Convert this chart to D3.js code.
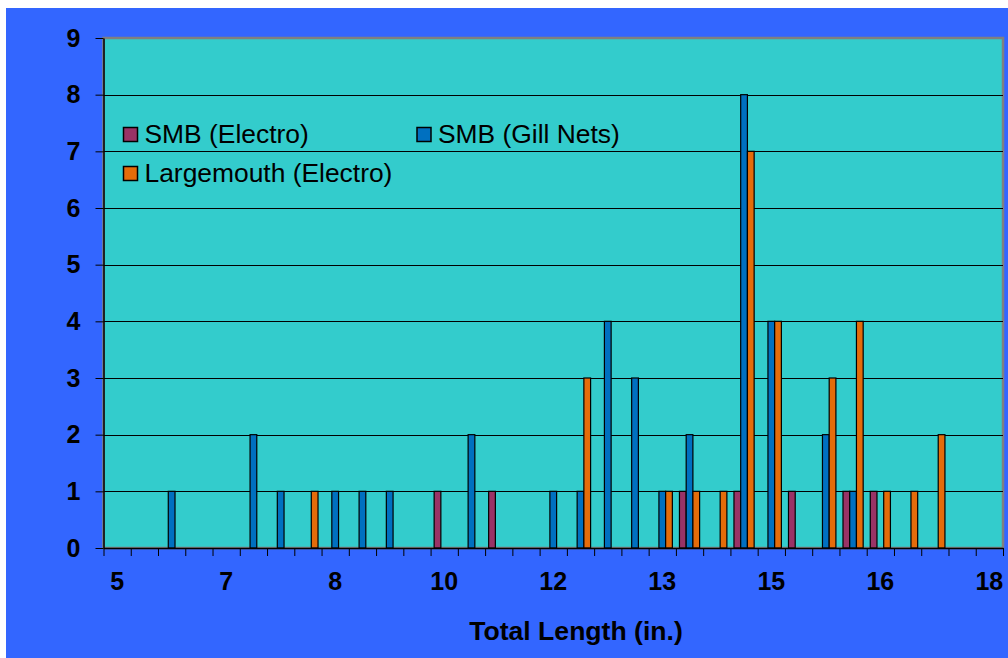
<!DOCTYPE html>
<html>
<head>
<meta charset="utf-8">
<script src="https://cdn.jsdelivr.net/npm/d3@7"></script>
<style>
  html, body { margin: 0; padding: 0; background: #ffffff; }
  svg { display: block; font-family: Arial, "Liberation Sans", sans-serif; }
</style>
</head>
<body>
<svg id="chart" width="1008" height="658"></svg>
<script>
// Category labels (length bins, shown rounded as in the original)
const categories = ["5","5","6","6","7","7","7","8","8","9","9","9","10","10","11","11","12","12","12","13","13","14","14","14","15","15","16","16","16","17","17","18","18"];
const seriesNames = ["SMB (Electro)", "SMB (Gill Nets)", "Largemouth (Electro)"];
const smbElectro  = [0,0,0,0,0,0,0,0,0,0,0,0,1,0,1,0,0,0,0,0,0,1,0,1,0,1,0,1,1,0,0,0,0];
const smbGillNets = [0,0,1,0,0,2,1,0,1,1,1,0,0,2,0,0,1,1,4,3,1,2,0,8,4,0,2,1,0,0,0,0,0];
const largemouth  = [0,0,0,0,0,0,0,1,0,0,0,0,0,0,0,0,0,3,0,0,1,1,1,7,4,0,3,4,1,1,2,0,0];
const yTicks = [0,1,2,3,4,5,6,7,8,9];
const xTitle = "Total Length (in.)";

const colors = ["#993366", "#0070C0", "#E46C0A"];
const seriesValues = [smbElectro, smbGillNets, largemouth];

const svg = d3.select("#chart");
const W = 1008, H = 658;
const plot = { left: 103.5, right: 1003, top: 38, bottom: 548 };

// background
svg.append("rect").attr("x", 6).attr("y", 8).attr("width", W - 6).attr("height", H - 8).attr("fill", "#3366FF");

// plot area
svg.append("rect")
  .attr("x", plot.left).attr("y", plot.top)
  .attr("width", plot.right - plot.left).attr("height", plot.bottom - plot.top)
  .attr("fill", "#33CCCC").attr("stroke", "#808080").attr("stroke-width", 2.5);

const idx = d3.range(categories.length);
const x0 = d3.scaleBand().domain(idx).range([plot.left, plot.right]).paddingInner(0).paddingOuter(0);
const bw = x0.bandwidth();
const x1 = d3.scaleBand().domain(d3.range(seriesNames.length)).range([bw * 0.13, bw * 0.87]).padding(0);
const y = d3.scaleLinear().domain([0, 9]).range([plot.bottom, plot.top]);
const xb = d3.scaleLinear().domain([0, categories.length]).range([plot.left, plot.right]);

// gridlines
svg.append("g").selectAll("line").data(yTicks.filter(v => v > 0 && v < 9)).join("line")
  .attr("x1", plot.left).attr("x2", plot.right)
  .attr("y1", d => Math.round(y(d)) + 0.5).attr("y2", d => Math.round(y(d)) + 0.5)
  .attr("stroke", "#000").attr("stroke-width", 1);

// bars
const barData = [];
seriesValues.forEach((vals, s) => vals.forEach((v, i) => { if (v > 0) barData.push({ s, i, v }); }));
svg.append("g").selectAll("rect").data(barData).join("rect")
  .attr("x", d => x0(d.i) + x1(d.s))
  .attr("y", d => y(d.v))
  .attr("width", x1.bandwidth())
  .attr("height", d => y(0) - y(d.v))
  .attr("fill", d => colors[d.s])
  .attr("stroke", "#000").attr("stroke-width", 1.2);

// y axis
const yAxis = svg.append("g").attr("transform", `translate(${plot.left},0)`)
  .call(d3.axisLeft(y).tickValues(yTicks).tickSize(8).tickPadding(15).tickSizeOuter(0).tickFormat(d3.format("d")));
yAxis.select(".domain").attr("stroke", "#000").attr("stroke-width", 1.5);
yAxis.selectAll(".tick line").attr("stroke", "#000");
yAxis.selectAll("text").attr("font-size", 25).attr("font-weight", "bold").attr("fill", "#000")
  .attr("font-family", "Arial, 'Liberation Sans', sans-serif");

// x axis tick marks at category boundaries
const xTickAxis = svg.append("g").attr("transform", `translate(0,${plot.bottom})`)
  .call(d3.axisBottom(xb).tickValues(d3.range(categories.length + 1)).tickSize(8).tickSizeOuter(0).tickFormat(""));
xTickAxis.select(".domain").attr("stroke", "#000").attr("stroke-width", 1.5);
xTickAxis.selectAll(".tick line").attr("stroke", "#000");

// x labels every 4th category
const xLab = svg.append("g").attr("transform", `translate(0,${plot.bottom})`)
  .call(d3.axisBottom(x0).tickValues(idx.filter(i => i % 4 === 0)).tickSize(0).tickPadding(24).tickFormat(i => categories[i]));
xLab.select(".domain").remove();
xLab.selectAll("text").attr("font-size", 25).attr("font-weight", "bold").attr("fill", "#000")
  .attr("font-family", "Arial, 'Liberation Sans', sans-serif");

// x title
svg.append("text").attr("x", 576).attr("y", 640).attr("text-anchor", "middle")
  .attr("font-size", 26.6).attr("font-weight", "bold").attr("fill", "#000").text(xTitle);

// legend
const legendPos = [
  { x: 123.5, y: 142.5 },
  { x: 417, y: 142.5 },
  { x: 123.5, y: 181.5 }
];
const lg = svg.append("g").selectAll("g").data(seriesNames).join("g")
  .attr("transform", (d, i) => `translate(${legendPos[i].x},${legendPos[i].y})`);
lg.append("rect").attr("x", 0).attr("y", -15).attr("width", 14).attr("height", 14)
  .attr("fill", (d, i) => colors[i]).attr("stroke", "#000").attr("stroke-width", 1.5);
lg.append("text").attr("x", 21).attr("y", 0).attr("font-size", 26.4).attr("fill", "#000").text(d => d);
</script>
</body>
</html>
